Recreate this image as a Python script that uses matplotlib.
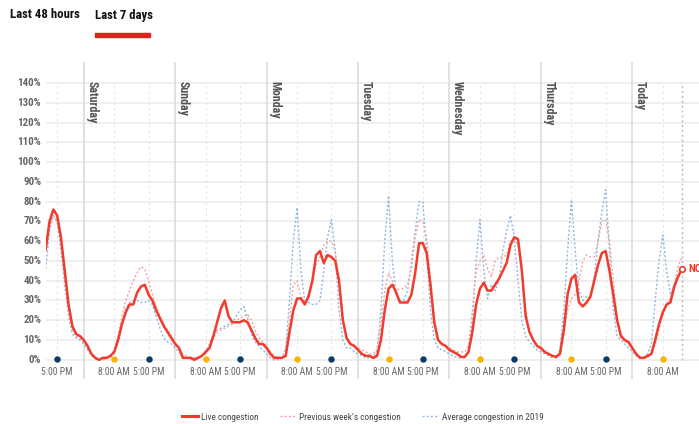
import matplotlib
matplotlib.use("Agg")
import matplotlib.pyplot as plt
from matplotlib import font_manager
from matplotlib.lines import Line2D

# pick a condensed face if one is installed
installed = {(f.name, f.stretch) for f in font_manager.fontManager.ttflist}
names = {n for n, _ in installed}
narrow = None
for cand in ["Roboto Condensed", "Liberation Sans Narrow", "Open Sans Condensed", "Noto Sans Display"]:
    if cand in names:
        narrow = (cand, "normal")
        break
if narrow is None:
    for n, st in installed:
        if n == "DejaVu Sans" and st in ("condensed", "semi-condensed", 500, 600, 700):
            narrow = ("DejaVu Sans", "condensed")
            break
if narrow is None:
    narrow = ("Lato", "normal")
    scale = 0.92
else:
    scale = 1.0

plt.rcParams["font.family"] = [narrow[0], "DejaVu Sans"]
plt.rcParams["font.stretch"] = narrow[1]

# hourly congestion (%) from Friday 14:00 up to now (Today ~13:00)
live = [
    56, 70, 76, 73, 62, 45, 28, 17, 13, 12,
    10, 7, 3, 1, 0, 1, 1, 2, 4, 10,
    18, 24, 28, 28, 34, 37, 38, 33, 30, 25,
    21, 17, 14, 11, 8, 6, 1, 1, 1, 0,
    1, 2, 4, 6, 12, 19, 26, 30, 22, 19,
    19, 19, 20, 19, 15, 11, 8, 8, 6, 3,
    1, 1, 1, 2, 14, 25, 31, 31, 28, 32,
    40, 53, 55, 49, 53, 52, 50, 40, 20, 11,
    8, 7, 5, 3, 2, 2, 1, 2, 10, 25,
    36, 38, 34, 29, 29, 29, 33, 44, 59, 59,
    54, 38, 19, 10, 8, 7, 5, 4, 3, 1.5,
    1.5, 4, 14, 28, 36, 39, 35, 35, 38, 41,
    45, 49, 58, 62, 61, 45, 22, 14, 10, 7,
    6, 4, 3, 2, 1.5, 3, 15, 33, 41, 43,
    29, 27, 29, 32, 40, 48, 54, 55, 45, 33,
    20, 12, 10, 9, 6, 3, 1, 1, 2, 3,
    10, 18, 24, 28, 29, 37, 42, 46,
]

prev_week = [
    54, 68, 73, 70, 60, 42, 25, 15, 12, 11,
    9, 6, 3, 1, 0, 0, 1, 2, 5, 12,
    22, 30, 35, 40, 44, 47, 46, 40, 33, 27,
    22, 18, 15, 12, 9, 6, 3, 2, 1, 1,
    1, 2, 3, 6, 11, 14, 15, 16, 17, 18,
    20, 21, 22, 23, 20, 15, 11, 9, 7, 4,
    2, 1, 1, 3, 20, 38, 40, 32, 29, 33,
    40, 48, 52, 58, 60, 60, 55, 40, 20, 10,
    8, 7, 6, 5, 4, 3, 3, 5, 18, 35,
    44, 40, 35, 36, 36, 38, 46, 62, 71, 70,
    62, 40, 20, 10, 8, 7, 6, 5, 4, 4,
    4, 7, 25, 45, 50, 53, 46, 42, 50, 52,
    52, 53, 60, 61, 58, 45, 25, 15, 10, 7,
    5, 4, 3, 2, 1, 3, 12, 25, 31, 33,
    40, 50, 53, 52, 52, 60, 70, 71, 60, 40,
    22, 13, 10, 8, 5, 3, 1, 1, 1, 3,
    8, 15, 23, 28, 31, 38, 47, 52,
]

avg_2019 = [
    46, 65, 73, 70, 55, 38, 22, 13, 11, 10,
    8, 5, 2, 1, 0, 0, 1, 1, 4, 9,
    18, 26, 29, 30, 30, 29, 29, 30, 28, 22,
    16, 11, 9, 8, 6, 4, 2, 1, 1, 1,
    1, 2, 4, 8, 13, 15, 16, 17, 18, 19,
    22, 25, 27, 21, 13, 9, 7, 5, 3, 1,
    0, 0, 1, 6, 30, 60, 77, 45, 30, 29,
    28, 28, 30, 45, 62, 71, 55, 25, 10, 6,
    6, 4, 3, 2, 1, 1, 1, 5, 25, 60,
    83, 50, 33, 30, 30, 35, 50, 65, 80, 80,
    55, 25, 10, 6, 5, 4, 3, 2, 1, 1,
    1, 4, 20, 50, 71, 45, 31, 38, 35, 40,
    55, 65, 73, 62, 40, 20, 12, 9, 7, 5,
    4, 3, 2, 1, 1, 5, 25, 55, 81, 55,
    35, 30, 32, 32, 42, 60, 75, 86, 55, 25,
    12, 10, 8, 6, 4, 2, 1, 1, 3, 8,
    30, 50, 63, 45, 33, 38, 42, 45,
]

day_names = ["Saturday", "Sunday", "Monday", "Tuesday", "Wednesday", "Thursday", "Today"]
first_midnight = 10          # hours from start (Fri 14:00) to Saturday 00:00
y_ticks = list(range(0, 150, 10))

hours = list(range(len(live)))
now_h = hours[-1]

RED = "#f23b2c"
PINK = "#f5a39c"
BLUE = "#8fb6e3"
GREY_TXT = "#666666"

fig = plt.figure(figsize=(6.99, 4.24), dpi=100)
ax = fig.add_axes([0.0654, 0.1061, 0.9346, 0.7477])
ax.set_xlim(0, 171.5)
ax.set_ylim(-9.7, 150.6)
for s in ax.spines.values():
    s.set_visible(False)
ax.set_xticks([])
ax.set_yticks([])

# horizontal grid
for v in y_ticks:
    ax.axhline(v, color="#efefef", lw=1.4, zorder=0)
    ax.text(-1.2, v, f"{v}%", ha="right", va="center", fontsize=7.8 * scale,
            fontweight="bold", color=GREY_TXT)

# day separators + labels
for i, name in enumerate(day_names):
    h = first_midnight + 24 * i
    ax.axvline(h, color="#dcdcdc", lw=1.2, zorder=1)
    ax.text(h + 0.4, 140.8, name, rotation=270, ha="left", va="top",
            fontsize=8.6 * scale, fontweight="bold", color="#555555")

# 8 AM / 5 PM ticks
tick_hours = [3]
tick_labels = ["5:00 PM"]
for i in range(len(day_names)):
    for off, lab in [(8, "8:00 AM"), (17, "5:00 PM")]:
        h = first_midnight + 24 * i + off
        if h <= now_h:
            tick_hours.append(h)
            tick_labels.append(lab)

for h, lab in zip(tick_hours, tick_labels):
    ax.plot([h, h], [0, 140], color="#e4e4e4", lw=0.8, ls=(0, (2, 3)), zorder=1)
    dot = "#f7b500" if lab == "8:00 AM" else "#0b3b66"
    ax.plot(h, 0.4, "o", ms=3.6, color=dot, zorder=5)
    ax.text(h, -6.2, lab, ha="center", va="center", fontsize=6.9 * scale, color=GREY_TXT)

# now line
ax.plot([now_h, now_h], [0, 140], color="#bbbbbb", lw=1.0, ls=(0, (1.5, 2)), zorder=1)

ax.plot(hours, avg_2019, color=BLUE, lw=1.0, ls=(0, (1.5, 1.5)), zorder=2)
ax.plot(hours, prev_week, color=PINK, lw=1.0, ls=(0, (1.5, 1.5)), zorder=3)
ax.plot(hours, live, color=RED, lw=1.8, zorder=4, solid_joinstyle="round")
ax.plot(now_h, live[-1], "o", ms=4, mfc="white", mec=RED, mew=1.2, zorder=6)
ax.text(now_h + 1.6, live[-1], "NOW", color=RED, fontsize=8 * scale, fontweight="bold",
        va="center", ha="left", clip_on=False)

# tabs on top
fig.text(10 / 699, 1 - 15 / 424, "Last 48 hours", fontsize=9.2 * scale, color="#111111",
         va="center", ha="left", fontweight="semibold")
fig.text(95 / 699, 1 - 15 / 424, "Last 7 days", fontsize=9.2 * scale, color="#111111",
         va="center", ha="left", fontweight="semibold")
fig.patches.append(plt.Rectangle((95 / 699, 1 - 37 / 424), 55 / 699, 4 / 424,
                                 transform=fig.transFigure, color="#e3201b"))

handles = [
    Line2D([], [], color=RED, lw=2.2),
    Line2D([], [], color=PINK, lw=1.0, ls=(0, (1.5, 1.5))),
    Line2D([], [], color=BLUE, lw=1.0, ls=(0, (1.5, 1.5))),
]
fig.legend(handles, ["Live congestion", "Previous week’s congestion", "Average congestion in 2019"],
           loc="center", bbox_to_anchor=(0.519, 1 - 417 / 424), ncol=3, frameon=False,
           fontsize=6.7 * scale, handlelength=1.7, handletextpad=0.35, columnspacing=2.3,
           labelcolor="#444444")

fig.savefig("out.png", dpi=100)
